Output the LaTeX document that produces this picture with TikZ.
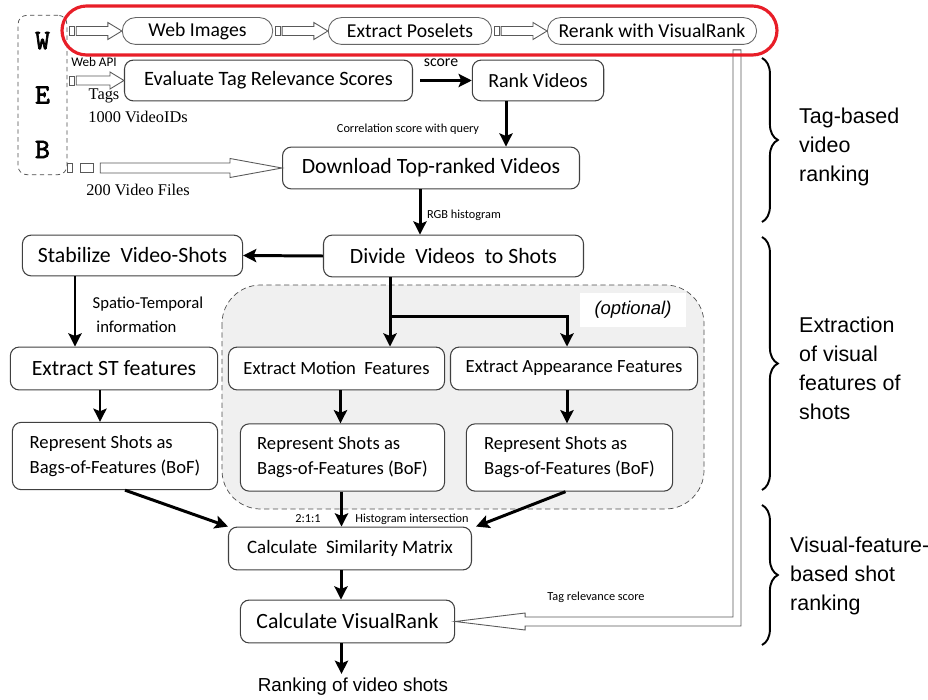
\documentclass[tikz,border=0pt]{standalone}
\usepackage{fontspec}
\setmainfont{Carlito}
\newfontfamily\arialfont{Liberation Sans}
\newfontfamily\timesfont{Liberation Serif}
\newfontfamily\courfont[FakeBold=2.5]{lmmono10-regular.otf}
\usetikzlibrary{arrows.meta,calc,decorations.pathreplacing}

\definecolor{redline}{RGB}{232,30,40}
\definecolor{optfill}{RGB}{240,240,240}

% hollow (outlined) arrow: start, tip, shaft half width, head half width, head length
\newcommand{\hollowarrow}[5]{%
  \draw[hollow] ($(#1)+(0,-#3)$) -- ($(#2)+(-#5,-#3)$) -- ($(#2)+(-#5,-#4)$) -- (#2)
    -- ($(#2)+(-#5,#4)$) -- ($(#2)+(-#5,#3)$) -- ($(#1)+(0,#3)$) -- cycle;}
% little plug in front of a hollow arrow
\newcommand{\plug}[3]{\draw[hollow] ($(#1)+(#2,-4.5)$) rectangle ($(#1)+(#3,4.5)$);}

\begin{document}
\begin{tikzpicture}[x=0.02cm, y=-0.02cm,
    box/.style={draw=black!75, line width=0.6pt, rounded corners=5pt, fill=white, inner sep=0pt, font=\fontsize{12.4}{15}\selectfont},
    bofbox/.style={box, align=left, minimum height=38.3pt, font=\fontsize{10.6}{14.2}\selectfont},
    topbox/.style={draw=black!60, line width=0.5pt, rounded corners=7.5pt, fill=white, inner sep=0pt, minimum height=15.3pt, font=\fontsize{11.2}{13}\selectfont},
    lbl/.style={inner sep=0pt, font=\fontsize{7}{8}\selectfont},
    flow/.style={line width=1.7pt, -{Stealth[length=7.5pt, width=7.5pt, inset=1.5pt]}},
    hollow/.style={draw=black!65, line width=0.5pt, fill=white},
    side/.style={anchor=west, align=left, font=\arialfont\fontsize{12.2}{16.4}\selectfont},
    brc/.style={line width=1.1pt, decorate, decoration={brace, amplitude=9pt}}
  ]
  \useasboundingbox (0,0) rectangle (928,699);

  % the web source
  \node[draw=black!70, dash pattern=on 2.5pt off 2pt, rounded corners=5pt, minimum width=27.8pt, minimum height=90.7pt,
        inner sep=0pt, align=center, font=\courfont\fontsize{16}{31}\selectfont] (web) at (42.5,95) {W\\E\\B};

  % the poselet pipeline on top
  \node[topbox, minimum width=85.6pt] (webimg) at (197.5,31) {Web Images};
  \node[topbox, minimum width=93pt] (poselets) at (410,31) {Extract Poselets};
  \node[topbox, minimum width=119pt] (rerank) at (652,31) {Rerank with VisualRank};

  % the boxes of the main flow
  \node[box, minimum width=163.9pt, minimum height=23.2pt, font=\fontsize{11.6}{14}\selectfont] (evaluate) at (268.5,80.5) {Evaluate Tag Relevance Scores};
  \node[box, minimum width=74.8pt, minimum height=23.2pt, font=\fontsize{11.4}{14}\selectfont] (rankvid) at (538,80.5) {Rank Videos};
  \node[box, minimum width=169pt, minimum height=23.8pt] (download) at (431,168) {Download Top-ranked Videos};
  \node[box, minimum width=148pt, minimum height=23.8pt] (divide) at (453.5,256) {Divide~ Videos~ to Shots};
  \node[box, minimum width=125.3pt, minimum height=23.2pt] (stabilize) at (132.5,255.5) {Stabilize~ Video-Shots};

  % optional part
  \draw[draw=black!70, dash pattern=on 3pt off 2pt, fill=optfill, rounded corners=22pt] (222,285) rectangle (704,509);
  \node[fill=white, minimum width=60pt, minimum height=19.3pt, inner sep=0pt,
        font=\arialfont\itshape\fontsize{10.5}{12}\selectfont] (opt) at (633,310) {(optional)};

  \node[box, minimum width=118pt, minimum height=24.4pt] (extst) at (114,368.5) {Extract ST features};
  \node[box, minimum width=123pt, minimum height=24.4pt, font=\fontsize{10.6}{13}\selectfont] (extmot) at (336.5,368.5) {Extract Motion~ Features};
  \node[box, minimum width=140.6pt, minimum height=24.4pt, font=\fontsize{10.6}{13}\selectfont] (extapp) at (574,368.5) {Extract Appearance Features};

  \node[bofbox, minimum width=116.8pt] (bofst) at (115,456) {Represent Shots as\\Bags-of-Features (BoF)};
  \node[bofbox, minimum width=116.2pt] (bofmot) at (342.5,457.5) {Represent Shots as\\Bags-of-Features (BoF)};
  \node[bofbox, minimum width=117.4pt] (bofapp) at (569.5,457.5) {Represent Shots as\\Bags-of-Features (BoF)};

  \node[box, minimum width=138.3pt, minimum height=24.4pt, font=\fontsize{10.8}{13}\selectfont] (simil) at (350,548.5) {Calculate~ Similarity Matrix};
  \node[box, minimum width=121.9pt, minimum height=24.4pt] (vrank) at (347.5,621.5) {Calculate VisualRank};
  \node[inner sep=0pt, font=\arialfont\fontsize{10.7}{12}\selectfont] (result) at (353,687) {Ranking of video shots};

  % the texts
  \node[lbl, font=\fontsize{7.5}{8}\selectfont] (webapi) at (94,62) {Web API};
  \node[inner sep=0pt, font=\timesfont\fontsize{9.3}{11}\selectfont] (tags) at (104,96) {Tags};
  \node[inner sep=0pt, font=\timesfont\fontsize{9.3}{11}\selectfont] (vidids) at (138,117) {1000 VideoIDs};
  \node[inner sep=0pt, font=\timesfont\fontsize{9.3}{11}\selectfont] (vidfiles) at (138,190) {200 Video Files};
  \node[lbl, font=\fontsize{9}{10}\selectfont] (score) at (441,63) {score};
  \node[lbl] (corr) at (408,129) {Correlation score with query};
  \node[lbl] (rgb) at (464,215) {RGB histogram};
  \node[inner sep=0pt, align=left, font=\fontsize{9.5}{13.6}\selectfont] (spatio) at (148,315) {Spatio-Temporal\\~information};
  \node[lbl] (ratio) at (308,519) {2:1:1};
  \node[lbl] (hist) at (412,519) {Histogram intersection};
  \node[lbl] (tagscore) at (596,597) {Tag relevance score};

  % hollow arrows
  \coordinate (a1) at ($(web.east |- webimg.west)+(9,0)$);
  \plug{a1}{-7}{-2}
  \hollowarrow{a1}{webimg.west}{4.5}{8.5}{14}
  \coordinate (a2) at ($(webimg.east)+(9,0)$);
  \plug{a2}{-7}{-2}
  \hollowarrow{a2}{poselets.west}{4.5}{8.5}{14}
  \coordinate (a3) at ($(poselets.east)+(9,0)$);
  \plug{a3}{-7}{-2}
  \hollowarrow{a3}{rerank.west}{4.5}{8.5}{14}
  \coordinate (a4) at ($(web.east |- evaluate.west)+(9,0)$);
  \plug{a4}{-7}{-2}
  \hollowarrow{a4}{evaluate.west}{4.5}{8.5}{14}
  \coordinate (a5) at ($(web.east |- download.west)+(33,0)$);
  \plug{a5}{-33}{-28}
  \plug{a5}{-20}{-7}
  \hollowarrow{a5}{download.west}{5}{9.5}{52}

  % tag relevance back to VisualRank
  \coordinate (tagtop) at ($(rerank.south east)+(-20,5)$);
  \draw[hollow] ($(tagtop)+(-4,0)$) -- ($(tagtop)+(4,0)$) -- ($(tagtop |- vrank.east)+(4,4.5)$)
    -- ($(vrank.east)+(70,4.5)$) -- ($(vrank.east)+(70,8.5)$) -- (vrank.east) -- ($(vrank.east)+(70,-8.5)$)
    -- ($(vrank.east)+(70,-4.5)$) -- ($(tagtop |- vrank.east)+(-4,-4.5)$) -- cycle;

  % draw the arrows
  \draw[flow] ($(evaluate.east)+(7,0)$) -- (rankvid.west);
  \coordinate (rv) at ($(rankvid.south)+(-32,0)$);
  \draw[flow] (rv) -- (rv |- download.north);
  \coordinate (dl) at ($(download.south)+(-11,0)$);
  \draw[flow] (dl) -- (dl |- divide.north);
  \draw[flow] (divide.west) -- (stabilize.east);
  \coordinate (sv) at ($(stabilize.south)+(-57.5,0)$);
  \draw[flow] (sv) -- (sv |- extst.north);
  \coordinate (dv) at ($(divide.south)+(-63.5,0)$);
  \draw[flow] (dv) -- (dv |- extmot.north);
  \coordinate (br) at ($(dv)!0.56!(dv |- extmot.north)$);
  \draw[flow] (br) -| ($(extapp.north)+(-7,0)$);
  \coordinate (es) at ($(extst.south)+(-14,0)$);
  \draw[flow] (es) -- (es |- bofst.north);
  \coordinate (em) at ($(extmot.south)+(4,0)$);
  \draw[flow] (em) -- (em |- bofmot.north);
  \coordinate (ea) at ($(extapp.south)+(-7,0)$);
  \draw[flow] (ea) -- (ea |- bofapp.north);
  \draw[flow] ($(bofst.south)+(10,0)$) -- (simil.north west);
  \coordinate (bm) at ($(bofmot.south)+(-1,0)$);
  \draw[flow] (bm) -- (bm |- simil.north);
  \draw[flow] ($(bofapp.south)+(-4,0)$) -- ($(simil.north east)+(4,0)$);
  \coordinate (sm) at ($(simil.south)+(-9,0)$);
  \draw[flow] (sm) -- (sm |- vrank.north);
  \coordinate (vr) at ($(vrank.south)+(-6,0)$);
  \draw[flow] (vr) -- ($(vr |- result.north)+(0,-4)$);

  % the red frame
  \draw[redline, line width=1.8pt, rounded corners=14pt] (62,6) rectangle (777,55);

  % the stages
  \draw[brc] (762,58) -- (762,222);
  \draw[brc] (762,237) -- (762,490);
  \draw[brc] (762,505) -- (762,645);
  \node[side] (stage1) at (793,147) {Tag-based\\video\\ranking};
  \node[side] (stage2) at (793,368.5) {Extraction\\of visual\\features of\\shots};
  \node[side] (stage3) at (784,576) {Visual-feature-\\based shot\\ranking};
\end{tikzpicture}
\end{document}
